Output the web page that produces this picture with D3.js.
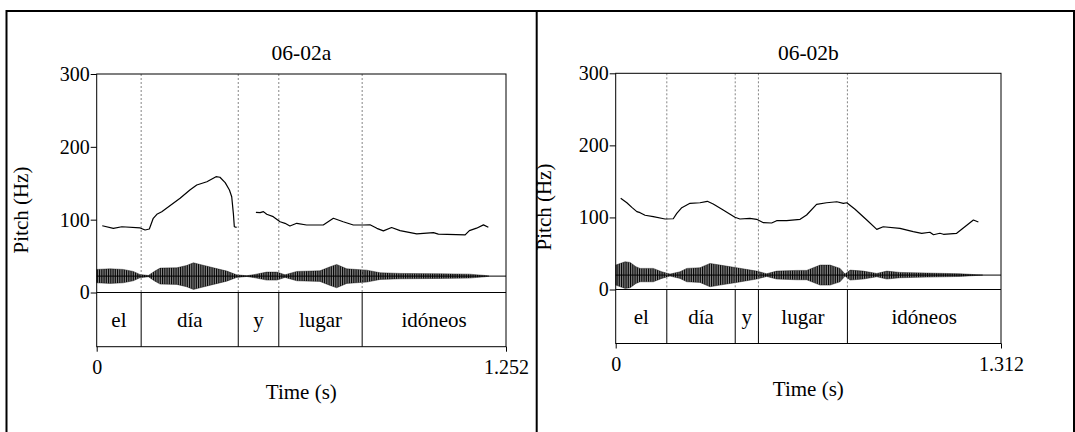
<!DOCTYPE html>
<html>
<head>
<meta charset="utf-8">
<script src="https://cdnjs.cloudflare.com/ajax/libs/d3/7.8.5/d3.min.js"></script>
<style>
body { margin: 0; background: #fff; }
</style>
</head>
<body>
<svg id="chart" width="1075" height="432"></svg>
<script>
// values
var titles = ["06-02a", "06-02b"];
var durations = [1.252, 1.312];
var words = ["el", "día", "y", "lugar", "idóneos"];
var boundsA = [0, 0.136, 0.433, 0.557, 0.812, 1.252];
var boundsB = [0, 0.174, 0.407, 0.486, 0.789, 1.312];
var yTicks = [0, 100, 200, 300];

// pitch contours [time s, Hz], null = unvoiced gap
var pitchA = [
  [0.017, 91.7], [0.051, 88.1], [0.077, 90.3], [0.133, 88.6], [0.148, 85.8], [0.161, 87.2],
  [0.173, 101.9], [0.184, 107.4], [0.199, 111], [0.255, 129.3], [0.285, 140.7], [0.306, 147.6],
  [0.337, 152.1], [0.365, 159], [0.377, 158.2], [0.393, 150.8], [0.406, 140.7], [0.413, 131.5],
  [0.418, 108.7], [0.421, 90.3], [0.428, 89.5],
  null,
  [0.487, 110.1], [0.500, 109.6], [0.510, 111], [0.520, 107.4], [0.540, 104.1], [0.561, 97.2],
  [0.576, 95], [0.591, 91.3], [0.612, 95], [0.642, 92.7], [0.693, 92.7], [0.724, 101.9],
  [0.754, 97.2], [0.785, 92.7], [0.816, 92.7], [0.836, 92.9], [0.857, 88.1], [0.877, 84.6],
  [0.902, 89.2], [0.928, 85], [0.979, 80.5], [1.030, 82.3], [1.045, 80.1], [1.127, 79.2],
  [1.140, 85], [1.162, 88.3], [1.183, 92.9], [1.198, 89.7]
];
var pitchB = [
  [0.017, 126.5], [0.038, 120.4], [0.055, 114], [0.072, 108], [0.083, 106.6], [0.100, 103],
  [0.128, 101], [0.168, 97.8], [0.196, 98.2], [0.208, 105.7], [0.225, 113.5], [0.253, 119.6],
  [0.287, 120.4], [0.312, 122.4], [0.332, 118.6], [0.366, 110.3], [0.406, 100.2], [0.423, 97.8],
  [0.457, 98.8], [0.480, 97.4], [0.503, 92.7], [0.531, 92.3], [0.548, 95.5], [0.582, 95.5],
  [0.628, 97.4], [0.650, 103.4], [0.684, 118.2], [0.718, 120.4], [0.753, 121.8], [0.775, 119.6],
  [0.787, 120.4], [0.815, 111.3], [0.855, 96.4], [0.889, 83.5], [0.911, 87.1], [0.968, 84.9],
  [1.013, 80.2], [1.042, 78], [1.070, 79.4], [1.082, 76], [1.104, 78], [1.116, 76.6],
  [1.161, 78], [1.189, 87.1], [1.218, 96.4], [1.235, 93.7]
];

// waveform envelope [time s, half amplitude in Hz units]
var waveA = [
  [0, 9.2], [0.041, 10], [0.081, 9.2], [0.112, 6.4], [0.132, 2.3], [0.158, 0.9], [0.178, 6.9],
  [0.194, 11], [0.245, 11.4], [0.275, 14.6], [0.296, 18.3], [0.316, 16], [0.357, 11.4],
  [0.398, 6.9], [0.428, 1.8], [0.459, 0.5], [0.484, 2.3], [0.520, 5.5], [0.551, 5.5],
  [0.576, 1.8], [0.612, 6.4], [0.683, 7.3], [0.714, 12.8], [0.734, 16], [0.765, 10],
  [0.826, 8.2], [0.867, 4.6], [0.928, 3.7], [1.05, 3.2], [1.14, 2.7], [1.188, 0.9], [1.2, 0]
];
var waveB = [
  [0, 13.9], [0.032, 18.5], [0.049, 17.6], [0.069, 11.6], [0.083, 9.3], [0.128, 9.3],
  [0.157, 4.6], [0.185, 1.4], [0.219, 4.6], [0.242, 9.3], [0.287, 10.2], [0.321, 16.2],
  [0.355, 13.9], [0.412, 10.2], [0.480, 5.5], [0.514, 1.9], [0.548, 5.5], [0.616, 6.5],
  [0.650, 6.5], [0.696, 13.9], [0.730, 13.9], [0.764, 9.3], [0.781, 1.4], [0.798, 6.9],
  [0.843, 5.5], [0.889, 2.3], [0.923, 5.5], [0.968, 3.7], [1.059, 2.8], [1.172, 1.9],
  [1.229, 0.5], [1.25, 0]
];

var serif = "'Liberation Serif', 'Times New Roman', Times, 'DejaVu Serif', serif";

var svg = d3.select("#chart").style("font-family", serif);

// vertical comb used to fill the oscillogram
svg.append("defs").append("pattern")
    .attr("id", "comb")
    .attr("patternUnits", "userSpaceOnUse")
    .attr("width", 1.8)
    .attr("height", 20)
  .append("rect")
    .attr("width", 1.3)
    .attr("height", 20)
    .attr("fill", "#000");

var panels = [
  {title: titles[0], dur: durations[0], bounds: boundsA, pitch: pitchA, wave: waveA,
   left: 96.7, right: 506, top: 74, zero: 292.5, bottom: 346.7, waveMid: 22.5,
   yLabelX: 28, yLabelY: 210, xLabelY: 399},
  {title: titles[1], dur: durations[1], bounds: boundsB, pitch: pitchB, wave: waveB,
   left: 615.7, right: 1001, top: 73.3, zero: 289.5, bottom: 343.5, waveMid: 20,
   yLabelX: 551, yLabelY: 207, xLabelY: 396}
];

function addText(g, size) {
    return g.append("text")
        .style("font-family", serif)
        .attr("font-size", size)
        .attr("fill", "#000");
}

function drawPanel(p) {
    var x = d3.scaleLinear().domain([0, p.dur]).range([p.left, p.right]);
    var y = d3.scaleLinear().domain([0, 300]).range([p.zero, p.top]);
    var g = svg.append("g");

    // oscillogram
    var area = d3.area()
        .x(function(d) { return x(d[0]); })
        .y0(function(d) { return y(p.waveMid - d[1]); })
        .y1(function(d) { return y(p.waveMid + d[1]); });
    g.append("path")
        .datum(p.wave)
        .attr("d", area)
        .attr("fill", "url(#comb)")
        .attr("stroke", "#000")
        .attr("stroke-width", 0.4);
    g.append("line")
        .attr("x1", x(0)).attr("x2", x(p.dur))
        .attr("y1", y(p.waveMid)).attr("y2", y(p.waveMid))
        .attr("stroke", "#000").attr("stroke-width", 1);

    // interval boundaries: dotted above, solid in the tier
    var inner = p.bounds.slice(1, -1);
    g.selectAll(".dot").data(inner).enter().append("line")
        .attr("x1", function(d) { return x(d); })
        .attr("x2", function(d) { return x(d); })
        .attr("y1", y(300)).attr("y2", y(0))
        .attr("stroke", "#666").attr("stroke-width", 0.8)
        .attr("stroke-dasharray", "2,2");
    g.selectAll(".bnd").data(inner).enter().append("line")
        .attr("x1", function(d) { return x(d); })
        .attr("x2", function(d) { return x(d); })
        .attr("y1", y(0)).attr("y2", p.bottom)
        .attr("stroke", "#000").attr("stroke-width", 1);

    // tier words
    words.forEach(function(w, i) {
        addText(g, 21)
            .attr("x", x((p.bounds[i] + p.bounds[i + 1]) / 2))
            .attr("y", (y(0) + p.bottom) / 2 + 7)
            .attr("text-anchor", "middle")
            .text(w);
    });

    // pitch
    var line = d3.line()
        .defined(function(d) { return d !== null; })
        .x(function(d) { return x(d[0]); })
        .y(function(d) { return y(d[1]); });
    g.append("path")
        .datum(p.pitch)
        .attr("d", line)
        .attr("fill", "none")
        .attr("stroke", "#000")
        .attr("stroke-width", 1.2)
        .attr("stroke-linejoin", "round");

    // frame and zero line
    g.append("rect")
        .attr("x", p.left).attr("y", p.top)
        .attr("width", p.right - p.left).attr("height", p.bottom - p.top)
        .attr("fill", "none").attr("stroke", "#000").attr("stroke-width", 1);
    g.append("line")
        .attr("x1", p.left).attr("x2", p.right)
        .attr("y1", y(0)).attr("y2", y(0))
        .attr("stroke", "#000").attr("stroke-width", 1);

    // axes
    var ya = g.append("g")
        .attr("transform", "translate(" + p.left + ",0)")
        .call(d3.axisLeft(y).tickValues(yTicks).tickSize(6).tickPadding(1));
    ya.select(".domain").remove();
    ya.attr("font-family", null);
    ya.selectAll("text").attr("font-size", 20).style("font-family", serif);

    var xa = g.append("g")
        .attr("transform", "translate(0," + p.bottom + ")")
        .call(d3.axisBottom(x).tickValues([0, p.dur])
            .tickFormat(function(d) { return d === 0 ? "0" : d3.format(".3f")(d); })
            .tickSize(5).tickPadding(8));
    xa.select(".domain").remove();
    xa.attr("font-family", null);
    xa.selectAll("text").attr("font-size", 20).style("font-family", serif);

    addText(g, 21.5)
        .attr("x", (p.left + p.right) / 2)
        .attr("y", 60)
        .attr("text-anchor", "middle")
        .text(p.title);

    addText(g, 21)
        .attr("x", (p.left + p.right) / 2)
        .attr("y", p.xLabelY)
        .attr("text-anchor", "middle")
        .text("Time (s)");

    addText(g, 21)
        .attr("transform", "translate(" + p.yLabelX + "," + p.yLabelY + ") rotate(-90)")
        .attr("text-anchor", "middle")
        .text("Pitch (Hz)");
}

panels.forEach(drawPanel);

// outer border and divider
svg.append("rect")
    .attr("x", 6.5).attr("y", 11)
    .attr("width", 1074 - 6.5).attr("height", 440)
    .attr("fill", "none").attr("stroke", "#000").attr("stroke-width", 2);
svg.append("line")
    .attr("x1", 536.7).attr("x2", 536.7)
    .attr("y1", 11).attr("y2", 432)
    .attr("stroke", "#000").attr("stroke-width", 2);
</script>
</body>
</html>
